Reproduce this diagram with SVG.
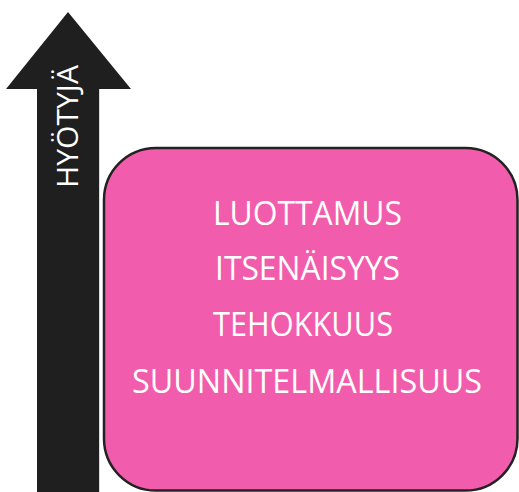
<svg xmlns="http://www.w3.org/2000/svg" width="519" height="492" viewBox="0 0 519 492">
  <style>
    .lbl { font-family: "Open Sans", "Liberation Sans", sans-serif; font-size: 32px; fill: #ffffff; text-anchor: middle; }
    .vlbl { font-family: "Open Sans", "Liberation Sans", sans-serif; font-size: 30px; fill: #ffffff; text-anchor: middle; }
  </style>
  <rect width="519" height="492" fill="#ffffff"/>
  <g id="arrow">
    <polygon points="68,12 131,89 99,89 99,492 37,492 37,89 6,89" fill="#1f1f1f"/>
    <line x1="99.5" y1="89" x2="99.5" y2="492" stroke="#d9d9d9" stroke-width="1"/>
    <text class="vlbl" transform="translate(78,126.5) rotate(-90)" textLength="123" lengthAdjust="spacingAndGlyphs">HYÖTYJÄ</text>
  </g>
  <g id="box">
    <rect x="104" y="148" width="413.5" height="342.5" rx="52" ry="52" fill="#f25cac" stroke="#222222" stroke-width="2.5"/>
    <text class="lbl" x="307.5" y="225" textLength="189" lengthAdjust="spacingAndGlyphs">LUOTTAMUS</text>
    <text class="lbl" x="307.5" y="280" textLength="185" lengthAdjust="spacingAndGlyphs">ITSENÄISYYS</text>
    <text class="lbl" x="303" y="336" textLength="180" lengthAdjust="spacingAndGlyphs">TEHOKKUUS</text>
    <text class="lbl" x="307" y="393" textLength="350" lengthAdjust="spacingAndGlyphs">SUUNNITELMALLISUUS</text>
  </g>
</svg>
